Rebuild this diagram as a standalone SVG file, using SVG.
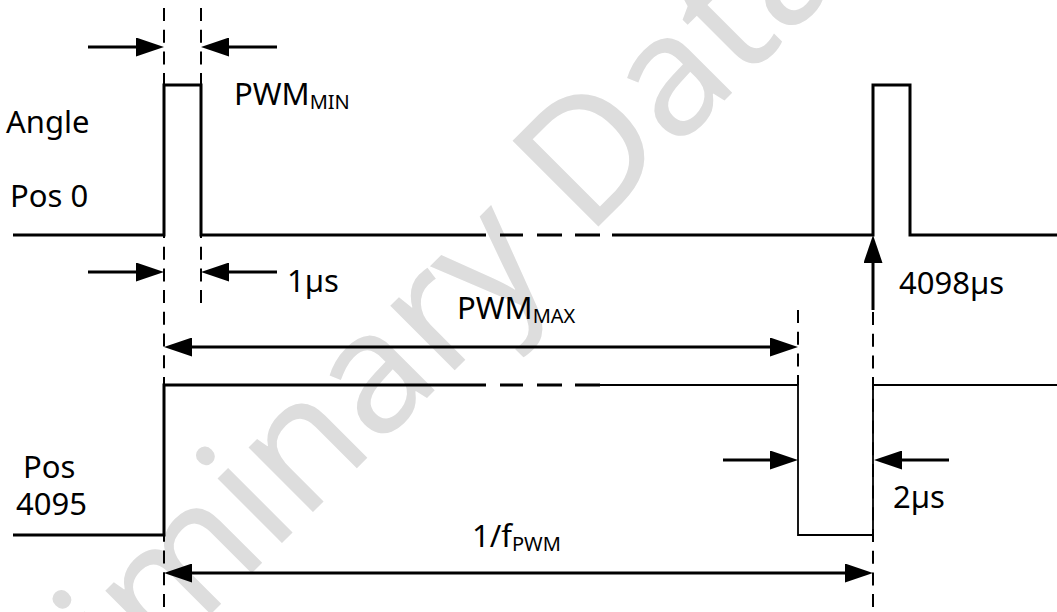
<svg xmlns="http://www.w3.org/2000/svg" width="1057" height="612" viewBox="0 0 1057 612">
<defs>
<marker id="ah" viewBox="0 0 28 19" refX="18" refY="9.5" markerWidth="28" markerHeight="19" markerUnits="userSpaceOnUse" orient="auto-start-reverse"><path d="M0,0 L28,9.5 L0,19 Z" fill="#000"/></marker>
</defs>
<style>
.sig{fill:none;stroke:#000;stroke-width:3;stroke-linejoin:miter;stroke-linecap:butt}
.thin{fill:none;stroke:#000;stroke-width:1.8}
.dash{fill:none;stroke:#000;stroke-width:2;stroke-dasharray:13 8.7}
.arr{fill:none;stroke:#000;stroke-width:3}
.end{marker-end:url(#ah)}
.both{marker-start:url(#ah);marker-end:url(#ah)}
text{font-family:"Noto Sans","Open Sans","DejaVu Sans",sans-serif;font-size:31px;fill:#000}
.sub{font-size:20px}
.wm{font-size:170px;fill:#dddddd}
</style>
<rect width="1057" height="612" fill="#fff"/>
<text class="wm" transform="translate(587 238) rotate(-45)" x="-958" y="0">Preliminary Datasheet</text>
<g id="dimlines">
<path class="dash" d="M164,8 V612"/>
<path class="dash" d="M201,8 V310"/>
<path class="dash" d="M798,310 V385"/>
<path class="dash" d="M873,312 V612"/>
</g>
<g id="angle-pos0">
<path class="sig" d="M13,235 H164 V85 H201 V235 H486 M500,235 H523 M537,235 H562 M575,235 H600 M612,235 H873 V85 H910 V235 H1057"/>
<text x="6" y="133">Angle</text>
<text x="10" y="207">Pos 0</text>
</g>
<g id="pos4095">
<path class="sig" d="M13,535 H164 V385 H486 M500,385 H523 M537,385 H562 M575,385 H600"/>
<path class="thin" d="M600,385 H798 V535 H873 V385 H1057"/>
<text x="23" y="478">Pos</text>
<text x="16" y="515">4095</text>
</g>
<g id="connectors">
<line class="arr end" x1="88" y1="47" x2="154" y2="47"/>
<line class="arr end" x1="277" y1="47" x2="211" y2="47"/>
<line class="arr end" x1="88" y1="272" x2="154" y2="272"/>
<line class="arr end" x1="277" y1="272" x2="211" y2="272"/>
<line class="arr both" x1="174" y1="347" x2="788" y2="347"/>
<line class="arr both" x1="174" y1="573" x2="863" y2="573"/>
<line class="arr end" x1="723" y1="460" x2="788" y2="460"/>
<line class="arr end" x1="949" y1="460" x2="884" y2="460"/>
<line class="arr end" x1="873" y1="310" x2="873" y2="245"/>
</g>
<g id="labels">
<text x="234" y="105">PWM<tspan class="sub" dy="3.5">MIN</tspan></text>
<text x="287" y="292">1µs</text>
<text x="457" y="319">PWM<tspan class="sub" dy="4">MAX</tspan></text>
<text x="899" y="294">4098µs</text>
<text x="893" y="508">2µs</text>
<text x="472" y="547">1/f<tspan class="sub" dy="3.5">PWM</tspan></text>
</g>
</svg>
